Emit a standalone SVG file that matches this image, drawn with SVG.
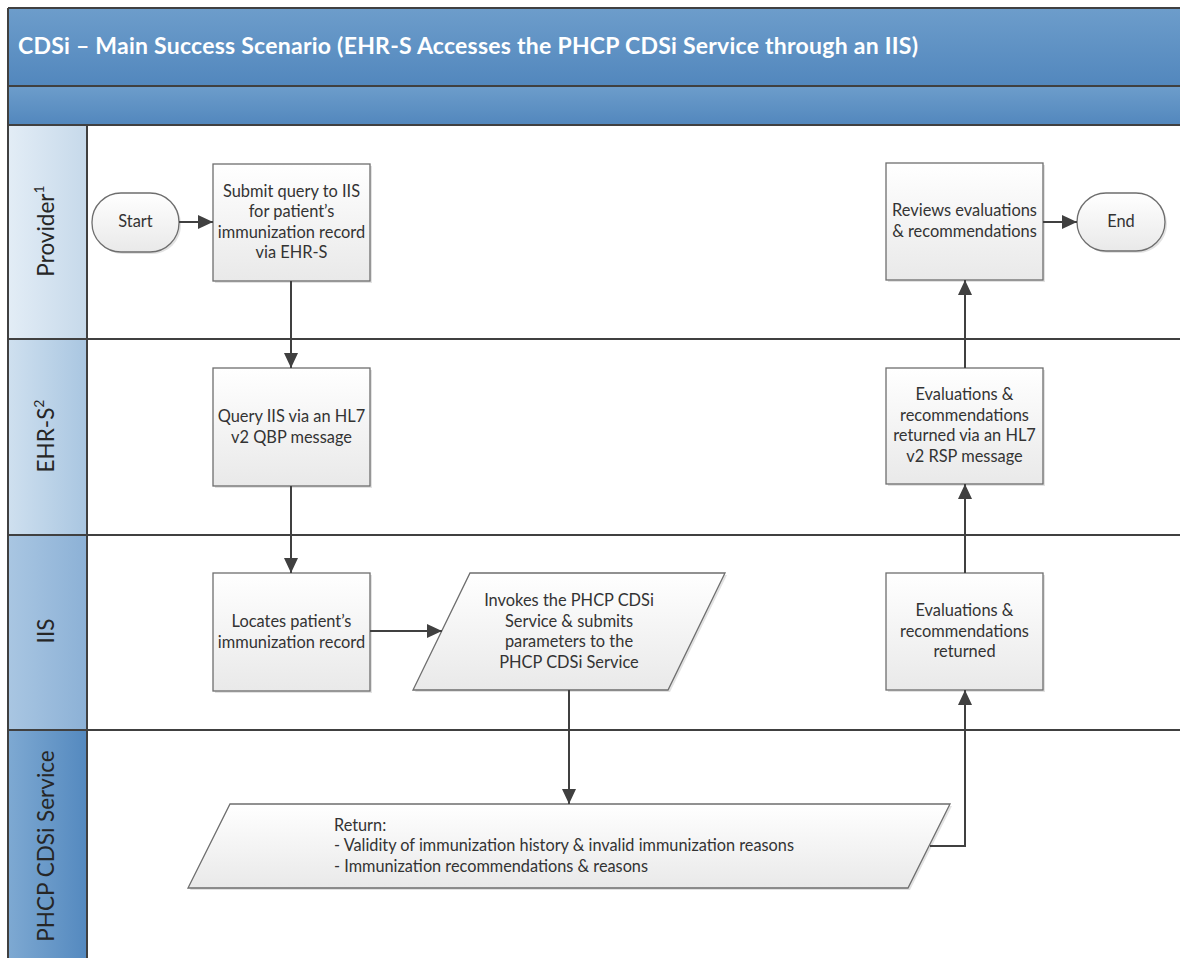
<svg xmlns="http://www.w3.org/2000/svg" width="1180" height="958" viewBox="0 0 1180 958">
<defs>
<linearGradient id="hdr" x1="0" y1="0" x2="0" y2="1"><stop offset="0" stop-color="#6d9dcb"/><stop offset="1" stop-color="#5287bd"/></linearGradient>
<linearGradient id="l1" x1="0" y1="0" x2="1" y2="0"><stop offset="0" stop-color="#e3edf6"/><stop offset="1" stop-color="#c6d9ea"/></linearGradient>
<linearGradient id="l2" x1="0" y1="0" x2="1" y2="0"><stop offset="0" stop-color="#cfe0ef"/><stop offset="1" stop-color="#a9c6e1"/></linearGradient>
<linearGradient id="l3" x1="0" y1="0" x2="1" y2="0"><stop offset="0" stop-color="#a9c6e2"/><stop offset="1" stop-color="#8cb1d6"/></linearGradient>
<linearGradient id="l4" x1="0" y1="0" x2="1" y2="0"><stop offset="0" stop-color="#7ea9d2"/><stop offset="1" stop-color="#5489bf"/></linearGradient>
<linearGradient id="box" x1="0" y1="0" x2="0" y2="1"><stop offset="0" stop-color="#ffffff"/><stop offset="1" stop-color="#e9e9e9"/></linearGradient>
<marker id="arr" markerUnits="userSpaceOnUse" markerWidth="16" markerHeight="14" refX="15" refY="7" orient="auto"><path d="M0,0 L15,7 L0,14 Z" fill="#404040"/></marker>
<style>
.t{font-family:Lato,"Liberation Sans",sans-serif;font-size:16.4px;fill:#333;text-anchor:middle}
.tl{font-family:Lato,"Liberation Sans",sans-serif;font-size:16.3px;fill:#333}
.lane{font-family:Lato,"Liberation Sans",sans-serif;font-size:22.5px;fill:#262626;text-anchor:middle}
.sup{font-size:14px}
.node{fill:url(#box);stroke:#6e6e6e;stroke-width:1.3}
.sh{fill:#cfcfcf;opacity:0.6}
.c{fill:none;stroke:#404040;stroke-width:2;marker-end:url(#arr)}
.sep{stroke:#404040;stroke-width:2;fill:none}
</style>
</defs>
<rect width="1180" height="958" fill="#ffffff"/>
<g id="pool">
<rect x="8" y="8" width="1180" height="78" fill="url(#hdr)"/>
<rect x="8" y="86" width="1180" height="39" fill="url(#hdr)"/>
<text x="18" y="54" font-family="Lato,'Liberation Sans',sans-serif" font-weight="bold" font-size="23" fill="#ffffff" textLength="900" lengthAdjust="spacing">CDSi – Main Success Scenario (EHR-S Accesses the PHCP CDSi Service through an IIS)</text>
<rect x="8" y="125" width="79" height="214" fill="url(#l1)"/>
<rect x="8" y="339" width="79" height="196" fill="url(#l2)"/>
<rect x="8" y="535" width="79" height="195" fill="url(#l3)"/>
<rect x="8" y="730" width="79" height="240" fill="url(#l4)"/>
<path class="sep" d="M8,8 H1182 M8,86 H1182 M8,125 H1182 M8,339 H1182 M8,535 H1182 M8,730 H1182 M8,8 V960 M87,125 V960"/>
<text class="lane" transform="translate(54,231) rotate(-90)">Provider<tspan class="sup" dy="-10">1</tspan></text>
<text class="lane" transform="translate(54,436) rotate(-90)">EHR-S<tspan class="sup" dy="-10">2</tspan></text>
<text class="lane" transform="translate(54,631) rotate(-90)">IIS</text>
<text class="lane" transform="translate(54,846) rotate(-90)">PHCP CDSi Service</text>
</g>
<g id="start">
<rect class="sh" x="94" y="195" width="87" height="59" rx="29"/>
<rect class="node" x="92" y="193" width="87" height="59" rx="29"/>
<text class="t" x="135.5" y="227">Start</text>
</g>
<g id="submit">
<rect class="sh" x="215" y="166" width="157" height="117"/>
<rect class="node" x="213" y="164" width="157" height="117"/>
<text class="t" x="291.5" y="197">Submit query to IIS</text>
<text class="t" x="291.5" y="217">for patient’s</text>
<text class="t" x="291.5" y="237.5">immunization record</text>
<text class="t" x="291.5" y="258">via EHR-S</text>
</g>
<g id="query">
<rect class="sh" x="215" y="370" width="157" height="118"/>
<rect class="node" x="213" y="368" width="157" height="118"/>
<text class="t" x="291.5" y="422">Query IIS via an HL7</text>
<text class="t" x="291.5" y="442.5">v2 QBP message</text>
</g>
<g id="locates">
<rect class="sh" x="215" y="575" width="157" height="118"/>
<rect class="node" x="213" y="573" width="157" height="118"/>
<text class="t" x="291.5" y="627">Locates patient’s</text>
<text class="t" x="291.5" y="647.5">immunization record</text>
</g>
<g id="invokes">
<polygon class="sh" points="472,575 727,575 670,692 415,692"/>
<polygon class="node" points="470,573 725,573 668,690 413,690"/>
<text class="t" x="569" y="606">Invokes the PHCP CDSi</text>
<text class="t" x="569" y="626.5">Service &amp; submits</text>
<text class="t" x="569" y="647">parameters to the</text>
<text class="t" x="569" y="667.5">PHCP CDSi Service</text>
</g>
<g id="return">
<polygon class="sh" points="232,806 952,806 910,890 190,890"/>
<polygon class="node" points="230,804 950,804 908,888 188,888"/>
<text class="tl" x="334" y="831">Return:</text>
<text class="tl" x="334" y="851">- Validity of immunization history &amp; invalid immunization reasons</text>
<text class="tl" x="334" y="871.5">- Immunization recommendations &amp; reasons</text>
</g>
<g id="evaliis">
<rect class="sh" x="888" y="575" width="157" height="117"/>
<rect class="node" x="886" y="573" width="157" height="117"/>
<text class="t" x="964.5" y="616">Evaluations &amp;</text>
<text class="t" x="964.5" y="636.5">recommendations</text>
<text class="t" x="964.5" y="657">returned</text>
</g>
<g id="evalehr">
<rect class="sh" x="888" y="370" width="157" height="116"/>
<rect class="node" x="886" y="368" width="157" height="116"/>
<text class="t" x="964.5" y="400">Evaluations &amp;</text>
<text class="t" x="964.5" y="420.5">recommendations</text>
<text class="t" x="964.5" y="441">returned via an HL7</text>
<text class="t" x="964.5" y="461.5">v2 RSP message</text>
</g>
<g id="reviews">
<rect class="sh" x="888" y="165" width="157" height="117"/>
<rect class="node" x="886" y="163" width="157" height="117"/>
<text class="t" x="964.5" y="216">Reviews evaluations</text>
<text class="t" x="964.5" y="236.5">&amp; recommendations</text>
</g>
<g id="end">
<rect class="sh" x="1079" y="195" width="88" height="58" rx="29"/>
<rect class="node" x="1077" y="193" width="88" height="58" rx="29"/>
<text class="t" x="1121" y="227">End</text>
</g>
<g id="connectors">
<path class="c" d="M179,222 H213"/>
<path class="c" d="M291,281 V368"/>
<path class="c" d="M291,486 V573"/>
<path class="c" d="M370,631 H442"/>
<path class="c" d="M569,690 V804"/>
<path class="c" d="M930,846 H965 V690"/>
<path class="c" d="M965,573 V484"/>
<path class="c" d="M965,368 V280"/>
<path class="c" d="M1043,222 H1077"/>
</g>
</svg>
